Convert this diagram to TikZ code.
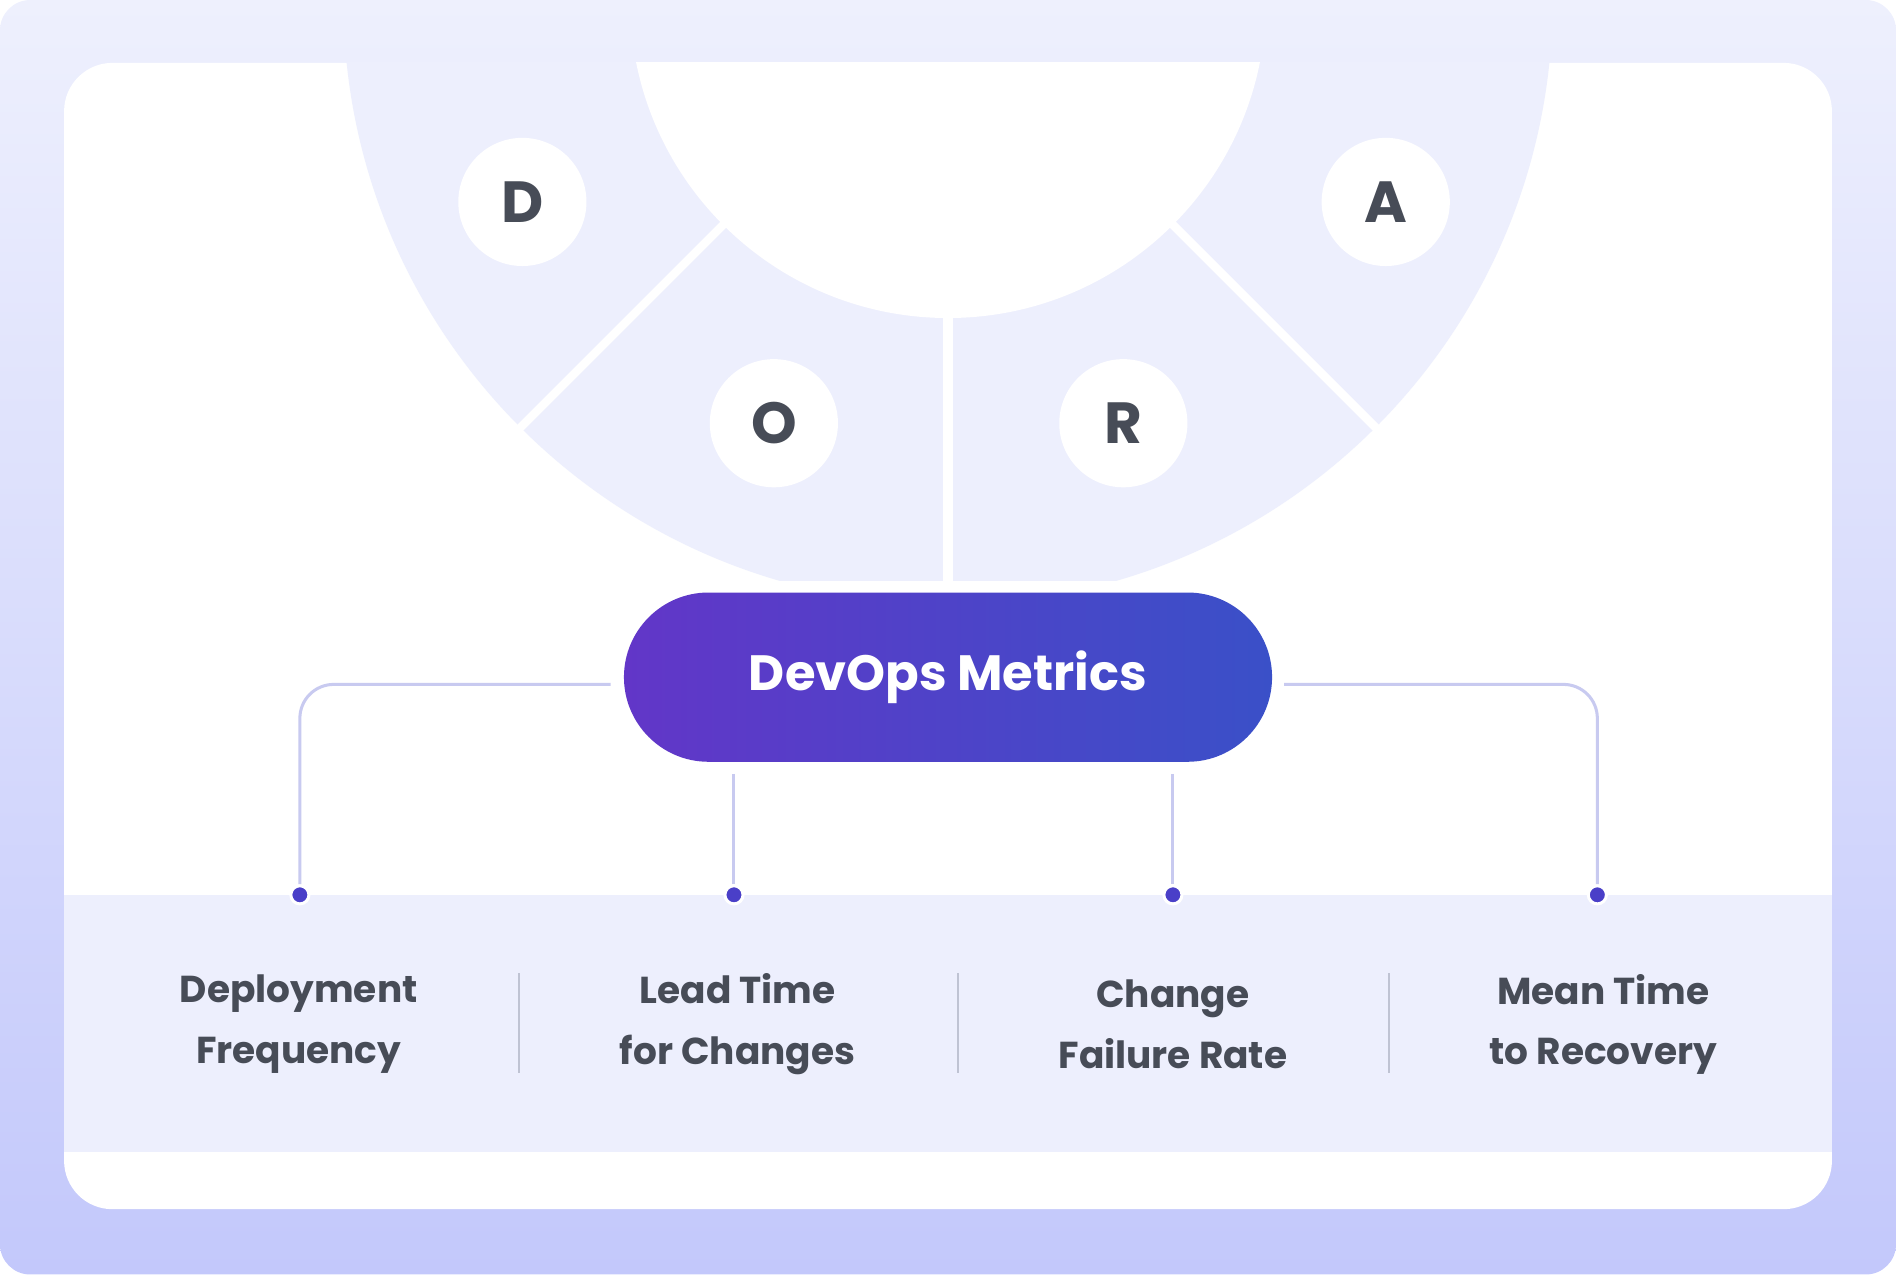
\documentclass[tikz,border=0pt]{standalone}
\usepackage{fontspec}
\setmainfont{Poppins}
\begin{document}
\begin{tikzpicture}[x=1pt,y=-1pt,
  letter/.style={circle,fill=white,minimum size=106pt,inner sep=0pt,font=\fontsize{48}{50}\selectfont\bfseries,text=txt},
  lbl/.style={align=center,font=\fontsize{31}{50}\selectfont\bfseries,text=txt},
  conn/.style={draw=connc,line width=2.5pt,rounded corners=28pt},
  dot/.style={circle,fill=dotc,draw=white,line width=2.5pt,minimum size=15pt,inner sep=0pt},
  divl/.style={draw=divc,line width=1.5pt}]
\definecolor{bgt}{HTML}{EEF0FD}\definecolor{bgb}{HTML}{C3C8FB}
\definecolor{lav}{HTML}{EDEFFD}\definecolor{txt}{HTML}{474C57}
\definecolor{pl}{HTML}{6236C8}\definecolor{pr}{HTML}{3A50C8}
\definecolor{connc}{HTML}{C8CAF0}\definecolor{dotc}{HTML}{4A3FC8}
\definecolor{divc}{HTML}{BFC3D3}
\useasboundingbox (0,0) rectangle (1568,1054);
\shade[top color=bgt,bottom color=bgb,rounded corners=25pt] (0,0) rectangle (1568,1054);
\fill[white,rounded corners=40pt] (53,52) rectangle (1515,1000);
\fill[lav] (53,740) rectangle (1515,953);
\begin{scope}
\clip (0,52) rectangle (1568,480);
\fill[lav] (784,0) circle[radius=500];
\fill[white] (784,0) circle[radius=263];
\draw[white,line width=8pt] (784,263) -- (784,490);
\draw[white,line width=7pt] (784,0) -- ++(-360,360);
\draw[white,line width=7pt] (784,0) -- ++(360,360);
\end{scope}
\node[letter] (d) at (432,167) {D};
\node[letter] (o) at (640,350) {O};
\node[letter] (r) at (929,350) {R};
\node[letter] (a) at (1146,167) {A};
\shade[left color=pl,right color=pr,rounded corners=70pt] (516,490) rectangle (1052,630);
\node[text=white,font=\fontsize{41}{50}\selectfont\bfseries] (dm) at (784,560) {DevOps Metrics};
\node[dot] (p1) at (248,740) {};
\node[dot] (p2) at (607,740) {};
\node[dot] (p3) at (970,740) {};
\node[dot] (p4) at (1321,740) {};
\coordinate (cl) at (505,566); \coordinate (cr) at (1062,566);
\coordinate (m2) at (607,640); \coordinate (m3) at (970,640);
\draw[conn] (cl) -| (p1.north);
\draw[conn] (cr) -| (p4.north);
\draw[conn] (m2) -- (p2.north);
\draw[conn] (m3) -- (p3.north);
\node[lbl] (l1) at (247,847) {Deployment\\Frequency};
\node[lbl] (l2) at (610,847) {Lead Time\\for Changes};
\node[lbl] (l3) at (970,847) {Change\\Failure Rate};
\node[lbl] (l4) at (1326,847) {Mean Time\\to Recovery};
\draw[divl] (429,805) -- (429,887);
\draw[divl] (792,805) -- (792,887);
\draw[divl] (1149,805) -- (1149,887);
\end{tikzpicture}
\end{document}
